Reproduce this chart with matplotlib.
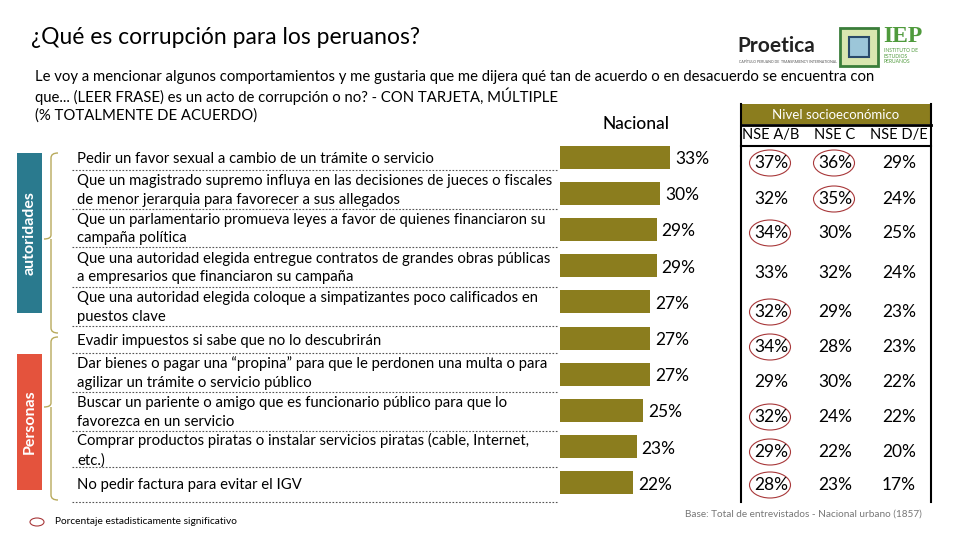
import matplotlib.pyplot as plt
import numpy as np
from matplotlib.patches import Ellipse, Rectangle
from matplotlib.path import Path
from matplotlib.patches import PathPatch

plt.rcParams['font.family'] = ['Lato', 'DejaVu Sans']

# data
items = [
    'Pedir un favor sexual a cambio de un trámite o servicio',
    'Que un magistrado supremo influya en las decisiones de jueces o fiscales\nde menor jerarquia para favorecer a sus allegados',
    'Que un parlamentario promueva leyes a favor de quienes financiaron su\ncampaña política',
    'Que una autoridad elegida entregue contratos de grandes obras públicas\na empresarios que financiaron su campaña',
    'Que una autoridad elegida coloque a simpatizantes poco calificados en\npuestos clave',
    'Evadir impuestos si sabe que no lo descubrirán',
    'Dar bienes o pagar una “propina” para que le perdonen una multa o para\nagilizar un trámite o servicio público',
    'Buscar un pariente o amigo que es funcionario público para que lo\nfavorezca en un servicio',
    'Comprar productos piratas o instalar servicios piratas (cable, Internet,\netc.)',
    'No pedir factura para evitar el IGV',
]
nacional = [33, 30, 29, 29, 27, 27, 27, 25, 23, 22]
nse_cols = ['NSE A/B', 'NSE C', 'NSE D/E']
nse_ab = [37, 32, 34, 33, 32, 34, 29, 32, 29, 28]
nse_c = [36, 35, 30, 32, 29, 28, 30, 24, 22, 23]
nse_de = [29, 24, 25, 24, 23, 23, 22, 22, 20, 17]
sig_ab = [True, False, True, False, True, True, False, True, True, True]
sig_c = [True, True, False, False, False, False, False, False, False, False]
sig_de = [False] * 10

OLIVE = '#8B7D1E'
TEAL = '#2A7A8E'
RED = '#E4533D'
BRACE = '#B8AA5C'
CIRCLE = '#A8383A'

fig = plt.figure(figsize=(9.6, 5.4), dpi=100)

# overlay axes in pixel coordinates
ov = fig.add_axes([0, 0, 1, 1])
ov.set_xlim(0, 960)
ov.set_ylim(540, 0)
ov.axis('off')

ov.text(31, 38, '¿Qué es corrupción para los peruanos?', fontsize=16.5, va='center', ha='left')
sub = 10.7
ov.text(35, 77, 'Le voy a mencionar algunos comportamientos y me gustaria que me dijera qué tan de acuerdo o en desacuerdo se encuentra con',
        fontsize=sub, va='center')
ov.text(35, 96, 'que... (LEER FRASE) es un acto de corrupción o no? - CON TARJETA, MÚLTIPLE', fontsize=sub, va='center')
ov.text(35, 116, '(% TOTALMENTE DE ACUERDO)', fontsize=sub, va='center')

# logos as text
ov.text(737, 46, 'Proetica', fontsize=15, fontweight='bold', va='center', color='#222222')
ov.text(739, 62, 'CAPÍTULO PERUANO DE  TRANSPARENCY INTERNATIONAL', fontsize=2.5, va='center', color='#555555')
ov.add_patch(Rectangle((840, 28), 38, 38, facecolor='#d9e6b0', edgecolor='#3a7d3a', lw=2))
ov.add_patch(Rectangle((849, 37), 20, 20, facecolor='#9cc6d9', edgecolor='#2a4a6a', lw=1.5))
ov.text(883, 36, 'IEP', fontsize=17, fontweight='bold', va='center', color='#4f9a3c', family='Liberation Serif')
ov.text(884, 56, 'INSTITUTO DE\nESTUDIOS\nPERUANOS', fontsize=3.6, va='center', color='#4f9a3c', linespacing=1.1)

ov.text(636, 124, 'Nacional', fontsize=12.5, va='center', ha='center', fontweight='medium')

# side labels
ov.add_patch(Rectangle((17, 153), 25, 160, facecolor=TEAL, edgecolor='none'))
ov.text(30, 233, 'autoridades', rotation=90, color='white', fontsize=11.5, fontweight='bold', ha='center', va='center')
ov.add_patch(Rectangle((17, 354), 25, 136, facecolor=RED, edgecolor='none'))
ov.text(30, 422, 'Personas', rotation=90, color='white', fontsize=11.5, fontweight='bold', ha='center', va='center')


def brace(top, bottom, tip):
    x0, x1, xt = 58, 51, 44
    verts = [(x0, top), (x1, top), (x1, top + 5), (x1, tip - 4), (x1, tip), (xt, tip),
             (x1, tip), (x1, tip + 4), (x1, bottom - 5), (x1, bottom), (x0, bottom)]
    codes = [Path.MOVETO, Path.CURVE3, Path.CURVE3, Path.LINETO, Path.CURVE3, Path.CURVE3,
             Path.MOVETO, Path.LINETO, Path.LINETO, Path.CURVE3, Path.CURVE3]
    ov.add_patch(PathPatch(Path(verts, codes), facecolor='none', edgecolor=BRACE, lw=1))


brace(153, 333, 239)
brace(337, 500, 407)

# item labels and dotted separators
seps = [170, 209, 247, 287, 326, 353, 392, 431, 467, 502]
tops = [146] + seps[:-1]
for lab, t, b in zip(items, tops, seps):
    ov.text(77, (t + b) / 2 + 1, lab, fontsize=10.7, va='center', ha='left', linespacing=1.45)
    ov.plot([72, 558], [b, b], ls=(0, (1.5, 1.5)), color='#555555', lw=0.8)

# bars
bx = fig.add_axes([560 / 960, 1 - 501 / 540, 400 / 960, 362 / 540])
y = np.arange(len(nacional))
bx.barh(y, nacional, height=0.64, color=OLIVE)
bx.set_xlim(0, 120)
bx.set_ylim(len(nacional) - 0.5, -0.5)
bx.axis('off')
for yi, v in zip(y, nacional):
    bx.text(v + 1.5, yi + 0.05, f'{v}%', fontsize=12.5, va='center', ha='left')

# table
ov.add_patch(Rectangle((741, 104), 190, 20, facecolor=OLIVE, edgecolor='none'))
ov.text(836, 115, 'Nivel socioeconómico', color='white', fontsize=9.5, ha='center', va='center')
ov.plot([741, 931], [125, 125], color='black', lw=2)
ov.plot([741, 931], [146, 146], color='black', lw=1.5)
ov.plot([741, 741], [104, 502], color='black', lw=1.5)
ov.plot([931, 931], [104, 502], color='black', lw=1.5)
col_x = [771, 835, 899]
for cx, name in zip(col_x, nse_cols):
    ov.text(cx, 135, name, fontsize=10.5, ha='center', va='center')

row_y = [163, 199, 233, 273, 312, 347, 382, 417, 452, 485]
for cx, vals, sig in zip(col_x, [nse_ab, nse_c, nse_de], [sig_ab, sig_c, sig_de]):
    for ry, v, s in zip(row_y, vals, sig):
        ov.text(cx, ry, f'{v}%', fontsize=12.5, ha='center', va='center')
        if s:
            ov.add_patch(Ellipse((cx - 1, ry), 41, 26, facecolor='none', edgecolor=CIRCLE, lw=0.8))

# legend / footer
ov.add_patch(Ellipse((37, 522), 14, 8, facecolor='none', edgecolor=CIRCLE, lw=0.8))
ov.text(55, 522, 'Porcentaje estadisticamente significativo', fontsize=7.3, va='center')
ov.text(922, 514, 'Base: Total de entrevistados - Nacional urbano (1857)', fontsize=7.2, va='center', ha='right', color='#777777')

fig.savefig('out.png', dpi=100)
